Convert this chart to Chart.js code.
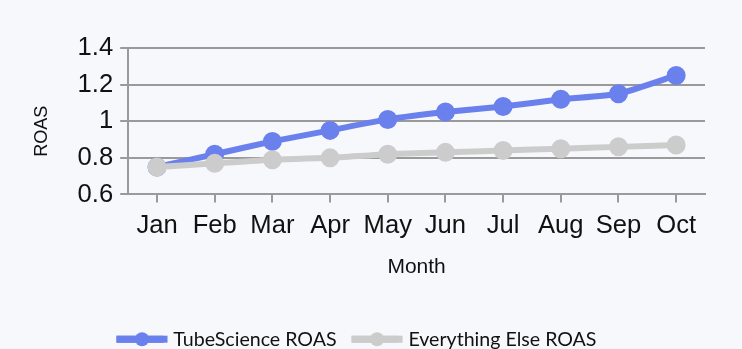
<!DOCTYPE html>
<html>
<head>
<meta charset="utf-8">
<script src="https://cdn.jsdelivr.net/npm/chart.js@4"></script>
<style>
  html, body { margin: 0; padding: 0; background: #f7f8fc; }
  #wrap { width: 742px; height: 349px; }
</style>
</head>
<body>
<div id="wrap"><canvas id="roasChart"></canvas></div>
<script>
"use strict";

const months = ["Jan", "Feb", "Mar", "Apr", "May", "Jun", "Jul", "Aug", "Sep", "Oct"];
const tubeScienceRoas = [0.75, 0.82, 0.89, 0.95, 1.01, 1.05, 1.08, 1.12, 1.15, 1.25];
const everythingElseRoas = [0.75, 0.77, 0.79, 0.80, 0.82, 0.83, 0.84, 0.85, 0.86, 0.87];
const yTicks = [0.6, 0.8, 1, 1.2, 1.4];

const sans = "'Liberation Sans', Arial, sans-serif";
const tickFont = { family: sans, size: 25.6 };
const legendLineLength = 51;

// legend only draws a bar, so lengthen it and put the point marker on it
const legendDots = {
  id: "legendDots",
  afterDraw(chart) {
    const legend = chart.legend;
    if (!legend || !legend.legendHitBoxes) return;
    const c = chart.ctx;
    const boxH = legend.options.labels.boxHeight;
    legend.legendItems.forEach((item, i) => {
      const hb = legend.legendHitBoxes[i];
      const cy = hb.top + hb.height / 2;
      c.save();
      c.fillStyle = item.fillStyle;
      c.fillRect(hb.left, cy - boxH / 2, legendLineLength, boxH);
      c.beginPath();
      c.arc(hb.left + legendLineLength / 2, cy, 7, 0, Math.PI * 2);
      c.fill();
      c.restore();
    });
  },
};

const ctx = document.getElementById("roasChart");
new Chart(ctx, {
  type: "line",
  data: {
    labels: months,
    datasets: [
      // gray first so it sits on top of the blue line, legend is reversed
      {
        label: "Everything Else ROAS",
        data: everythingElseRoas,
        borderColor: "#cccccc",
        backgroundColor: "#cccccc",
        borderWidth: 6,
        pointRadius: 6.5,
        pointHoverRadius: 6.5,
        tension: 0.2,
      },
      {
        label: "TubeScience ROAS",
        data: tubeScienceRoas,
        borderColor: "#6a80ec",
        backgroundColor: "#6a80ec",
        borderWidth: 6,
        pointRadius: 6.5,
        pointHoverRadius: 6.5,
        tension: 0.2,
      },
    ],
  },
  options: {
    responsive: true,
    maintainAspectRatio: false,
    animation: false,
    layout: { padding: { top: 48, right: 37, left: 8, bottom: -10 } },
    plugins: {
      legend: {
        position: "bottom",
        reverse: true,
        labels: {
          font: { family: "Lato", size: 19.6 },
          color: "#111",
          boxWidth: 47,
          boxHeight: 7,
          padding: 15,
          generateLabels: (chart) => {
            const items = Chart.defaults.plugins.legend.labels.generateLabels(chart);
            items.forEach((it) => { it.lineWidth = 0; });
            return items;
          },
        },
      },
      tooltip: { enabled: false },
    },
    scales: {
      x: {
        offset: true,
        grid: { drawOnChartArea: false, drawTicks: true, tickLength: 8, color: "#9a9a9a", lineWidth: 2 },
        border: { color: "#9a9a9a", width: 2 },
        ticks: { font: tickFont, color: "#111", padding: 8, maxRotation: 0, autoSkip: false },
        title: { display: true, text: "Month", font: { family: sans, size: 21 }, color: "#111", padding: { top: 5, bottom: 35 } },
      },
      y: {
        min: 0.6,
        max: 1.4,
        afterBuildTicks: (axis) => { axis.ticks = yTicks.map((v) => ({ value: v })); },
        grid: { color: "#9a9a9a", lineWidth: 2, tickLength: 8 },
        border: { color: "#9a9a9a", width: 2 },
        ticks: {
          font: tickFont,
          color: "#111",
          padding: 7,
          callback: (v) => String(+v.toFixed(2)),
        },
        // trailing spaces push the rotated title a bit lower, like the original
        title: { display: true, text: "ROAS    ", font: { family: sans, size: 18 }, color: "#111", padding: { top: 23, bottom: 18 } },
      },
    },
  },
  plugins: [legendDots],
});
</script>
</body>
</html>
